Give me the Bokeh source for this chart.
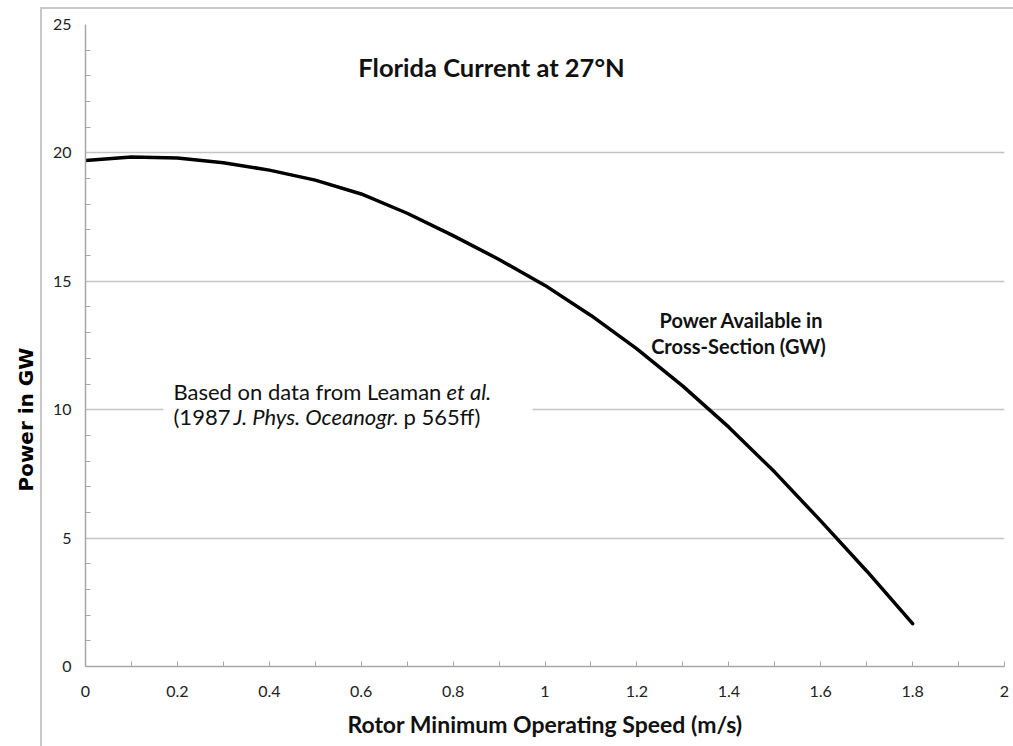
from bokeh.plotting import figure
from bokeh.models import Range1d, FixedTicker, Label, BoxAnnotation, Title, InlineStyleSheet
from bokeh.embed import file_html
from bokeh.resources import INLINE

# ---- data ----
speed = [0.0, 0.1, 0.2, 0.3, 0.4, 0.5, 0.6, 0.7, 0.8, 0.9,
         1.0, 1.1, 1.2, 1.3, 1.4, 1.5, 1.6, 1.7, 1.8]
power_gw = [19.70, 19.84, 19.80, 19.62, 19.33, 18.94, 18.40, 17.65, 16.78, 15.85,
            14.84, 13.67, 12.37, 10.92, 9.32, 7.57, 5.67, 3.72, 1.67]

x_ticks = [0, 0.2, 0.4, 0.6, 0.8, 1, 1.2, 1.4, 1.6, 1.8, 2]
x_tick_labels = ["0", "0.2", "0.4", "0.6", "0.8", "1", "1.2", "1.4", "1.6", "1.8", "2"]
x_minor = [0.1, 0.3, 0.5, 0.7, 0.9, 1.1, 1.3, 1.5, 1.7, 1.9]
y_ticks = [0, 5, 10, 15, 20, 25]
y_tick_labels = ["0", "5", "10", "15", "20", "25"]
y_minor = [v for v in range(1, 25) if v % 5 != 0]

title_text = "Florida Current at 27°N"
x_label = "Rotor Minimum Operating Speed (m/s)"
y_label = "Power in GW"
series_name = ["Power Available in", "Cross-Section (GW)"]

GRID = "#c4c4c4"
AXIS = "#a6a6a6"
FONT = "Lato"

border_css = InlineStyleSheet(css="""
:host::after {
  content: '';
  position: absolute;
  left: 40px; top: 7px; right: -20px; bottom: -20px;
  border-left: 2px solid #c8c8c8;
  border-top: 2px solid #c8c8c8;
  pointer-events: none;
}
""")

p = figure(width=1013, height=746, output_backend="svg", toolbar_location=None,
           x_range=Range1d(0, 2), y_range=Range1d(0, 25),
           min_border_left=85, min_border_right=9, min_border_top=24, min_border_bottom=80,
           stylesheets=[border_css])
p.outline_line_color = None
p.background_fill_color = "white"
p.border_fill_color = "white"

# x axis
xa = p.xaxis[0]
xa.ticker = FixedTicker(ticks=x_ticks, minor_ticks=x_minor)
xa.major_label_overrides = dict(zip(x_ticks, x_tick_labels))
xa.major_tick_in = 5
xa.major_tick_out = 0
xa.minor_tick_in = 5
xa.minor_tick_out = 0
xa.axis_line_color = AXIS
xa.axis_line_width = 1.5
xa.major_tick_line_color = AXIS
xa.minor_tick_line_color = AXIS
xa.major_label_text_font = FONT
xa.major_label_text_font_size = "16px"
xa.major_label_text_color = "#222222"
xa.major_label_standoff = 19
xa.axis_label = x_label
xa.axis_label_text_font = FONT
xa.axis_label_text_font_style = "bold"
xa.axis_label_text_font_size = "23px"
xa.axis_label_text_color = "#111111"
xa.axis_label_standoff = 10

# y axis
ya = p.yaxis[0]
ya.ticker = FixedTicker(ticks=y_ticks, minor_ticks=y_minor)
ya.major_label_overrides = dict(zip(y_ticks, y_tick_labels))
ya.major_tick_in = 0
ya.major_tick_out = 0
ya.minor_tick_in = 5
ya.minor_tick_out = 0
ya.axis_line_color = AXIS
ya.axis_line_width = 1.5
ya.minor_tick_line_color = AXIS
ya.major_label_text_font = FONT
ya.major_label_text_font_size = "16px"
ya.major_label_text_color = "#222222"
ya.major_label_standoff = 14

p.xgrid.grid_line_color = None
p.ygrid.grid_line_color = GRID
p.ygrid.grid_line_width = 1.5

# y label placed like the reference (below the frame's centre, left of the chart border)
ttl_kw = dict(text=y_label, align="left", offset=175, vertical_align="top",
              text_font="DejaVu Sans", text_font_style="bold",
              text_font_size="20px", text_color="black")
if "standoff" in Title.properties():
    ttl_kw["standoff"] = 20
p.add_layout(Title(**ttl_kw), "left")

# curve
p.line(speed, power_gw, line_color="black", line_width=3.5, line_cap="round", line_join="round")

# helpers to convert reference pixels into data coordinates
def dx(px):
    return (px - 85) / 459.5

def dy(py):
    return (666 - py) / 25.68

# title inside plot
p.add_layout(Label(x=dx(491), y=dy(66), text=title_text, text_align="center",
                   text_baseline="alphabetic", text_font=FONT, text_font_style="bold",
                   text_font_size="25.5px", text_color="#111111"))

# series annotation
p.add_layout(Label(x=dx(741), y=dy(319), text=series_name[0], text_align="center",
                   text_baseline="alphabetic", text_font=FONT, text_font_style="bold",
                   text_font_size="20px", text_color="#111111"))
p.add_layout(Label(x=dx(738), y=dy(345), text=series_name[1], text_align="center",
                   text_baseline="alphabetic", text_font=FONT, text_font_style="bold",
                   text_font_size="20px", text_color="#111111"))

# source note with white box
p.add_layout(BoxAnnotation(left=dx(163), right=dx(532), top=dy(378), bottom=dy(432),
                           fill_color="white", fill_alpha=1, line_color=None, level="underlay"))
note_parts = [
    (173, 391, "Based on data from Leaman ", "normal"),
    (446, 391, "et al.", "italic"),
    (173, 416, "(1987 ", "normal"),
    (233, 416, "J. Phys. Oceanogr.", "italic"),
    (403, 416, "p 565ff)", "normal"),
]
for px, py, t, st in note_parts:
    p.add_layout(Label(x=dx(px), y=dy(py), text=t, text_align="left",
                       text_baseline="alphabetic", text_font=FONT, text_font_style=st,
                       text_font_size="22px", text_color="#111111"))

open("out.html", "w").write(file_html(p, INLINE))
